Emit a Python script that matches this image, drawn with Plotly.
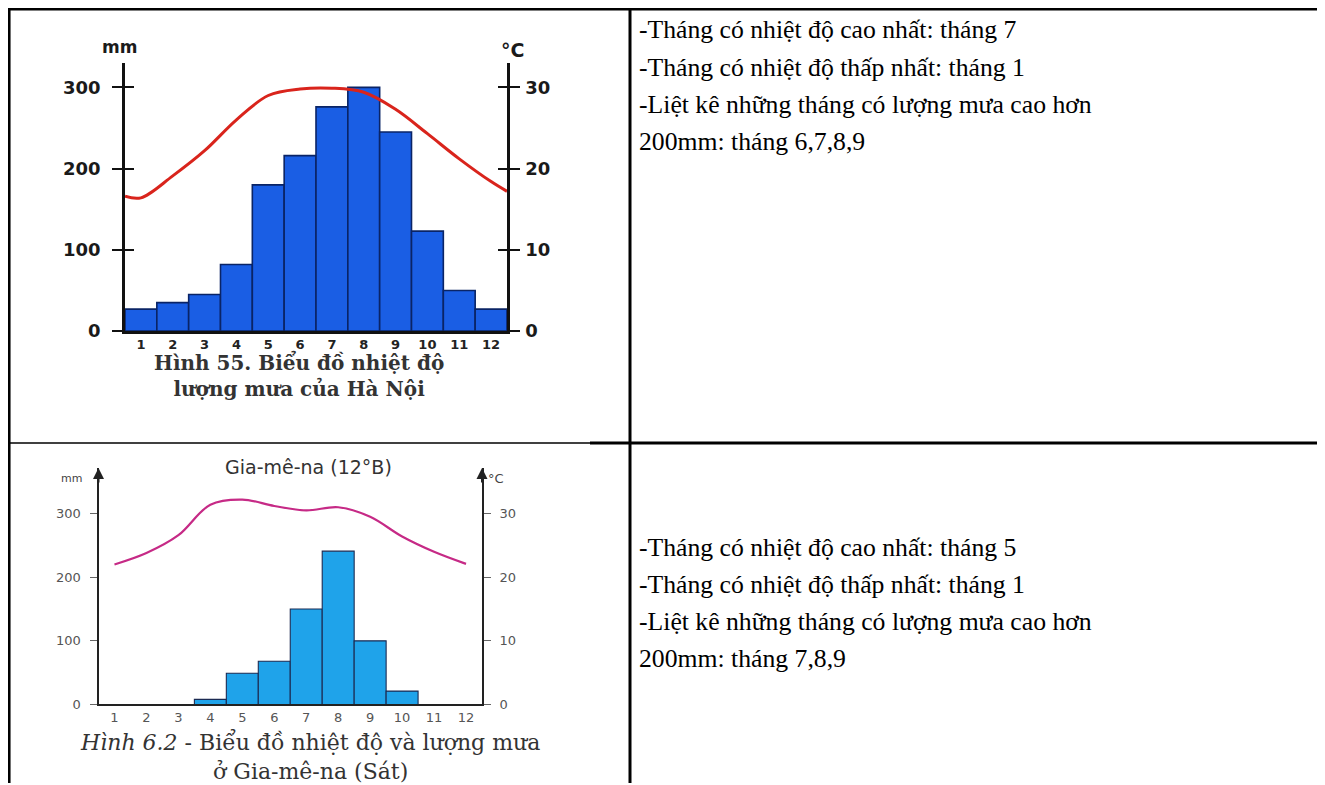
import plotly.graph_objects as go

W, H = 1325, 785
OFF_X = 8      # the page body adds an 8 px margin around the figure
SY = 0.987     # observed vertical scale of the photographed page

# ---------------- data ----------------
months = [1, 2, 3, 4, 5, 6, 7, 8, 9, 10, 11, 12]
month_labels = ["1", "2", "3", "4", "5", "6", "7", "8", "9", "10", "11", "12"]

# Hà Nội
hanoi_rain = [27, 35, 45, 82, 180, 216, 276, 300, 245, 123, 50, 27]
hanoi_temp = [16.4, 19.1, 22.2, 26.0, 29.0, 29.8, 29.9, 29.4, 27.3, 24.3, 21.2, 18.4]
hanoi_temp_edge_start = 16.6   # value where the curve meets the left axis
hanoi_temp_edge_end = 17.2     # value where the curve meets the right axis
hanoi_rain_ticks = [0, 100, 200, 300]
hanoi_temp_ticks = [0, 10, 20, 30]

# Gia-mê-na
ndj_rain = [0, 0, 0, 8, 49, 68, 150, 241, 100, 21, 0, 0]
ndj_temp = [22.0, 23.8, 26.6, 31.4, 32.2, 31.2, 30.5, 31.0, 29.5, 26.4, 24.0, 22.1]
ndj_rain_ticks = [0, 100, 200, 300]
ndj_temp_ticks = [0, 10, 20, 30]

text_top = [
    "-Tháng có nhiệt độ cao nhất: tháng 7",
    "-Tháng có nhiệt độ thấp nhất: tháng 1",
    "-Liệt kê những tháng có lượng mưa cao hơn",
    "200mm: tháng 6,7,8,9",
]
text_bottom = [
    "-Tháng có nhiệt độ cao nhất: tháng 5",
    "-Tháng có nhiệt độ thấp nhất: tháng 1",
    "-Liệt kê những tháng có lượng mưa cao hơn",
    "200mm: tháng 7,8,9",
]


def px(v):
    return min(1.0, max(0.0, (v - OFF_X) / W))


def py(v):
    fy = 1 + (v - 9) / SY
    return min(1.0, max(0.0, 1 - fy / H))


fig = go.Figure()

# ---------------- top chart (Hà Nội) ----------------
fig.add_trace(go.Bar(
    x=months, y=hanoi_rain, width=1.0, xaxis="x", yaxis="y",
    marker=dict(color="#1a5ee4", line=dict(color="#0a2466", width=1.6)),
    showlegend=False, hoverinfo="skip",
))
fig.add_trace(go.Scatter(
    x=[0.5] + months + [12.5],
    y=[hanoi_temp_edge_start] + hanoi_temp + [hanoi_temp_edge_end],
    xaxis="x", yaxis="y2", mode="lines",
    line=dict(color="#d9241c", width=3, shape="spline", smoothing=1.0),
    showlegend=False, hoverinfo="skip",
))
# empty traces so the tick-only overlay axes are drawn
fig.add_trace(go.Scatter(x=[], y=[], xaxis="x", yaxis="y5", showlegend=False, hoverinfo="skip"))
fig.add_trace(go.Scatter(x=[], y=[], xaxis="x", yaxis="y6", showlegend=False, hoverinfo="skip"))

# ---------------- bottom chart (Gia-mê-na) ----------------
fig.add_trace(go.Bar(
    x=months, y=ndj_rain, width=1.0, xaxis="x2", yaxis="y3",
    marker=dict(color="#1fa3ea", line=dict(color="#1b2a52", width=1.1)),
    showlegend=False, hoverinfo="skip",
))
fig.add_trace(go.Scatter(
    x=months, y=ndj_temp, xaxis="x2", yaxis="y4", mode="lines",
    line=dict(color="#c62a86", width=2.2, shape="spline", smoothing=1.0),
    showlegend=False, hoverinfo="skip",
))

top_x = [px(125), px(507)]
top_y = [py(331), py(63)]
top_range = [0, 330]
bot_x = [px(98.5), px(482)]
bot_y = [py(704.3), py(468)]
bot_range = [0, 371.5]

bold_tick = dict(family="DejaVu Sans", size=18, color="#1a1a1a", weight="bold")
small_tick = dict(family="DejaVu Sans", size=13, color="#555")

fig.update_layout(
    width=W, height=H, autosize=False,
    margin=dict(l=0, r=0, t=0, b=0),
    paper_bgcolor="white", plot_bgcolor="rgba(0,0,0,0)",
    barmode="overlay", showlegend=False,
    xaxis=dict(domain=top_x, range=[0.5, 12.5], anchor="y",
               showline=True, linecolor="#111", linewidth=2.5,
               tickvals=months, ticktext=month_labels, ticks="",
               tickfont=dict(family="DejaVu Sans", size=13, color="#222", weight="bold"),
               showgrid=False, zeroline=False, fixedrange=True),
    yaxis=dict(domain=top_y, range=top_range, anchor="x",
               showline=True, linecolor="#111", linewidth=2.5,
               tickvals=hanoi_rain_ticks, ticks="outside", ticklen=10, tickwidth=2,
               tickcolor="#111", tickfont=bold_tick, ticklabelstandoff=8,
               showgrid=False, zeroline=False, fixedrange=True),
    yaxis2=dict(range=[v / 10 for v in top_range], overlaying="y", anchor="x", side="right",
                showline=True, linecolor="#111", linewidth=2.5,
                tickvals=hanoi_temp_ticks, ticks="outside", ticklen=10, tickwidth=2,
                tickcolor="#111", tickfont=bold_tick, ticklabelstandoff=2,
                showgrid=False, zeroline=False, fixedrange=True),
    yaxis5=dict(range=top_range, overlaying="y", anchor="x", side="left",
                showline=False, tickvals=hanoi_rain_ticks[1:], ticks="inside", ticklen=9,
                tickwidth=2, tickcolor="#111", showticklabels=False,
                showgrid=False, zeroline=False, fixedrange=True),
    yaxis6=dict(range=top_range, overlaying="y", anchor="x", side="right",
                showline=False, tickvals=hanoi_rain_ticks[1:], ticks="inside", ticklen=9,
                tickwidth=2, tickcolor="#111", showticklabels=False,
                showgrid=False, zeroline=False, fixedrange=True),
    xaxis2=dict(domain=bot_x, range=[0.5, 12.5], anchor="y3",
                showline=True, linecolor="#222", linewidth=2,
                tickvals=months, ticktext=month_labels, ticks="",
                tickfont=small_tick,
                showgrid=False, zeroline=False, fixedrange=True),
    yaxis3=dict(domain=bot_y, range=bot_range, anchor="x2",
                showline=True, linecolor="#222", linewidth=2,
                tickvals=ndj_rain_ticks, ticks="outside", ticklen=7, tickwidth=1,
                tickcolor="#666", tickfont=small_tick, ticklabelstandoff=6,
                showgrid=False, zeroline=False, fixedrange=True),
    yaxis4=dict(range=[v / 10 for v in bot_range], overlaying="y3", anchor="x2", side="right",
                showline=True, linecolor="#222", linewidth=2,
                tickvals=ndj_temp_ticks, ticks="outside", ticklen=7, tickwidth=1,
                tickcolor="#666", tickfont=small_tick, ticklabelstandoff=6,
                showgrid=False, zeroline=False, fixedrange=True),
)


def label(x, y, text, font, xanchor="center"):
    return dict(x=px(x), y=py(y), xref="paper", yref="paper", text=text,
                xanchor=xanchor, yanchor="middle", showarrow=False, font=font)


annotations = []

# axis unit labels (top chart)
annotations.append(label(119, 47, "mm", dict(family="DejaVu Sans", size=17, color="#1a1a1a", weight="bold")))
annotations.append(label(512, 50, "°C", dict(family="DejaVu Sans", size=19, color="#1a1a1a", weight="bold")))
# caption top (two lines)
annotations.append(label(299, 375, "Hình 55. Biểu đồ nhiệt độ<br>lượng mưa của Hà Nội",
                         dict(family="DejaVu Serif", size=20, color="#333", weight="bold")))

# bottom chart: arrows on axes
for xr in (0, 1):
    annotations.append(dict(x=xr, y=1, xref="x2 domain", yref="y3 domain", ax=0, ay=16,
                            text="", showarrow=True, arrowhead=2, arrowsize=1.1,
                            arrowwidth=2, arrowcolor="#222"))
annotations.append(label(71, 478, "mm", dict(family="DejaVu Sans", size=11, color="#444")))
annotations.append(label(496, 478, "°C", dict(family="DejaVu Sans", size=13, color="#444")))
annotations.append(label(308, 467, "Gia-mê-na (12°B)", dict(family="DejaVu Sans", size=19, color="#333")))
annotations.append(label(310, 756, "<i>Hình 6.2</i> - Biểu đồ nhiệt độ và lượng mưa<br>ở Gia-mê-na (Sát)",
                         dict(family="DejaVu Serif", size=22, color="#333")))

# right column text
text_font = dict(family="Liberation Serif", size=25.7, color="#000")
for i, t in enumerate(text_top):
    annotations.append(label(637, 30 + 37 * i, t, text_font, xanchor="left"))
for i, t in enumerate(text_bottom):
    annotations.append(label(637, 547 + 37 * i, t, text_font, xanchor="left"))

fig.update_layout(annotations=annotations)

# table borders
line_k = dict(color="#000", width=3)
shapes = [
    dict(type="line", xref="paper", yref="paper", x0=px(5), x1=1, y0=py(9), y1=py(9), line=line_k),
    dict(type="line", xref="paper", yref="paper", x0=0.0008, x1=0.0008, y0=py(8), y1=0, line=line_k),
    dict(type="line", xref="paper", yref="paper", x0=px(630), x1=px(630), y0=py(8), y1=0, line=line_k),
    dict(type="line", xref="paper", yref="paper", x0=0, x1=px(590), y0=py(443), y1=py(443),
         line=dict(color="#000", width=1.5)),
    dict(type="line", xref="paper", yref="paper", x0=px(590), x1=1, y0=py(443), y1=py(443), line=line_k),
]
fig.update_layout(shapes=shapes)

fig.write_html("out.html")
